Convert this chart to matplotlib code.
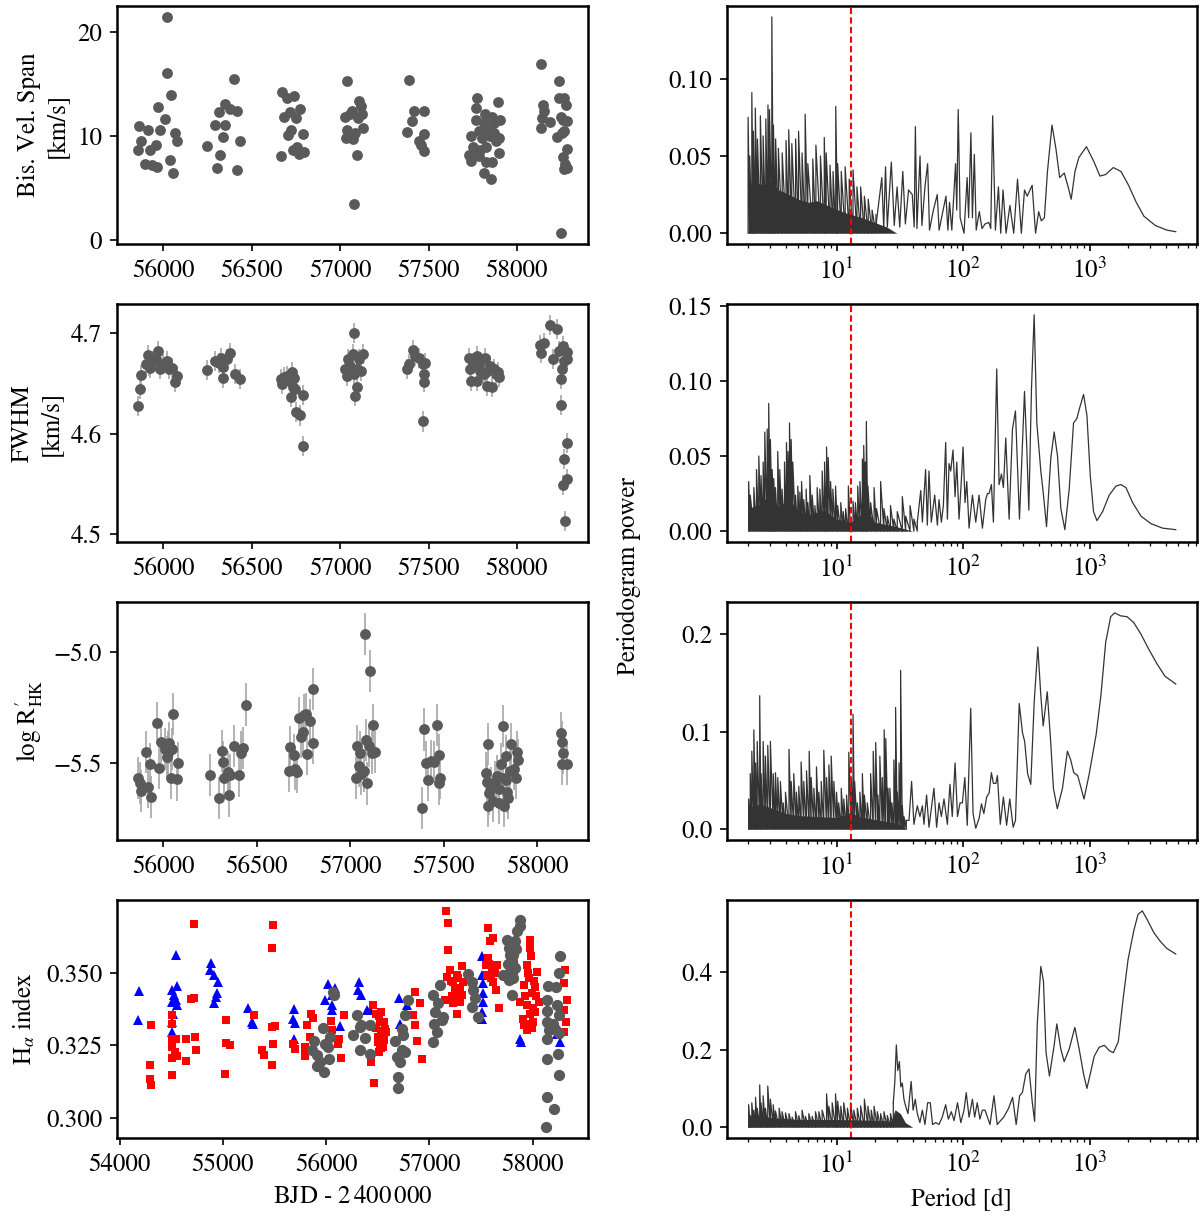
import matplotlib
matplotlib.use("Agg")
import matplotlib.pyplot as plt
from matplotlib.ticker import MultipleLocator, FormatStrFormatter
import numpy as np

plt.rcParams['font.family'] = ['STIXGeneral', 'DejaVu Serif']
plt.rcParams['mathtext.fontset'] = 'stix'
plt.rcParams['font.size'] = 12
plt.rcParams['axes.linewidth'] = 1.2


# ---- time series ----
bis_t = [55859, 55865, 55874, 55898, 55913, 55924, 55935, 55957, 55963, 55972,
         55985, 56011, 56020, 56024, 56039, 56043, 56054, 56067, 56076,
         56246, 56307, 56320, 56293, 56315, 56348, 56352, 56341, 56380, 56402,
         56415, 56420, 56435,
         56667, 56672, 56685, 56702, 56707, 56717, 56724, 56733, 56741, 56750,
         56754, 56767, 56776, 56793, 56798,
         57037, 57026, 57037, 57033, 57054, 57065, 57072, 57080, 57094, 57087,
         57104, 57109, 57120, 57124, 57130,
         57391, 57380, 57407, 57420, 57446, 57457, 57472, 57476, 57474,
         57728, 57739, 57750, 57739, 57767, 57772, 57767, 57783, 57793, 57815,
         57826, 57820, 57837, 57848, 57854, 57859, 57870, 57880, 57891, 57896,
         57898, 57902, 57804, 57826, 57859, 57815, 57783, 57754, 57870,
         58137, 58137, 58141, 58146, 58152, 58185, 58239, 58250, 58239, 58250,
         58261, 58267, 58276, 58283, 58228, 58254, 58267, 58283, 58261, 58272,
         58267, 58280]
bis = [8.65, 11.0, 9.5, 7.3, 10.6, 8.7, 7.2, 9.2, 7.0, 12.8,
       10.6, 11.7, 21.5, 16.1, 7.7, 14.0, 6.5, 10.3, 9.5,
       9.1, 6.9, 8.2, 11.1, 12.3, 11.1, 13.1, 9.9, 12.6, 15.5,
       6.7, 12.4, 9.5,
       8.1, 14.3, 11.9, 13.7, 10.1, 12.3, 10.6, 8.7, 13.9, 11.8,
       9.0, 8.3, 12.6, 10.2, 8.5,
       15.3, 11.9, 10.6, 9.8, 12.1, 12.4, 9.7, 3.5, 8.2, 10.3,
       11.8, 13.4, 12.9, 12.1, 10.8,
       15.4, 10.4, 11.5, 12.4, 9.5, 9.2, 12.4, 10.2, 8.6,
       8.2, 7.6, 9.0, 10.0, 12.7, 13.7, 11.6, 10.5, 8.7, 6.5,
       7.5, 12.1, 10.6, 10.0, 5.9, 7.5, 11.3, 9.5, 13.3, 9.8,
       8.4, 11.6, 9.8, 9.0, 11.9, 11.3, 8.1, 8.4, 10.3,
       17.0, 10.8, 11.8, 13.0, 12.4, 11.4, 15.3, 0.65, 13.7, 11.9,
       11.6, 13.7, 13.0, 11.5, 9.9, 10.3, 10.5, 8.8, 8.0, 7.3,
       6.8, 6.9]

fwhm_t = [55859, 55870, 55876, 55902, 55913, 55924, 55941, 55957, 55972, 55985,
          56000, 56022, 56033, 56050, 56065, 56076, 55920,
          56246, 56293, 56315, 56337, 56359, 56380, 56341, 56407, 56435, 56326,
          56667, 56674, 56685, 56702, 56717, 56728, 56735, 56724, 56746, 56750,
          56776, 56793, 56789, 56741,
          57026, 57037, 57043, 57059, 57072, 57080, 57094, 57087, 57098, 57109,
          57120, 57130, 57076,
          57380, 57391, 57413, 57424, 57446, 57467, 57478, 57472, 57472, 57467,
          57728, 57733, 57739, 57754, 57772, 57783, 57793, 57811, 57820, 57833,
          57848, 57859, 57870, 57880, 57891, 57898, 57772, 57826,
          58130, 58137, 58152, 58202, 58185, 58224, 58239, 58250, 58254, 58261,
          58267, 58250, 58280, 58283, 58267, 58261, 58280, 58272, 58283]
fwhm = [4.627, 4.644, 4.658, 4.669, 4.678, 4.665, 4.672, 4.674, 4.682, 4.664,
        4.669, 4.672, 4.664, 4.665, 4.651, 4.657, 4.667,
        4.663, 4.672, 4.670, 4.666, 4.674, 4.680, 4.655, 4.659, 4.654, 4.675,
        4.654, 4.649, 4.656, 4.657, 4.652, 4.661, 4.646, 4.636, 4.644, 4.621,
        4.618, 4.638, 4.588, 4.655,
        4.664, 4.657, 4.674, 4.667, 4.679, 4.700, 4.646, 4.637, 4.664, 4.674,
        4.662, 4.679, 4.659,
        4.664, 4.669, 4.683, 4.677, 4.675, 4.669, 4.670, 4.659, 4.651, 4.612,
        4.675, 4.664, 4.652, 4.670, 4.677, 4.669, 4.662, 4.659, 4.675, 4.647,
        4.667, 4.646, 4.664, 4.659, 4.661, 4.656, 4.652, 4.661,
        4.688, 4.680, 4.690, 4.674, 4.708, 4.704, 4.682, 4.654, 4.664, 4.687,
        4.672, 4.628, 4.681, 4.591, 4.575, 4.549, 4.555, 4.513, 4.674]
fwhm_err = 0.010

rhk_t = [55867, 55877, 55883, 55908, 55918, 55928, 55938, 55965, 55979, 55990,
         56010, 56021, 56031, 56041, 56047, 56055, 56072, 56082, 56027,
         56252, 56297, 56314, 56318, 56328, 56345, 56353, 56359, 56379, 56406,
         56416, 56425, 56441,
         56671, 56677, 56698, 56708, 56718, 56728, 56739, 56749, 56753, 56765,
         56769, 56786, 56800, 56800,
         57032, 57036, 57046, 57052, 57060, 57073, 57081, 57087, 57093, 57101,
         57107, 57118, 57122, 57134,
         57384, 57394, 57404, 57414, 57435, 57451, 57466, 57476, 57476, 57482,
         57729, 57733, 57737, 57737, 57743, 57754, 57764, 57774, 57784, 57794,
         57805, 57815, 57819, 57825, 57832, 57840, 57846, 57856, 57862, 57877,
         57887, 57893, 57897, 57794, 57836,
         58127, 58133, 58139, 58133, 58160]
rhk = [-5.565, -5.588, -5.626, -5.448, -5.606, -5.505, -5.652, -5.318, -5.520, -5.406,
       -5.436, -5.474, -5.409, -5.565, -5.436, -5.277, -5.573, -5.500, -5.452,
       -5.553, -5.656, -5.444, -5.494, -5.565, -5.539, -5.645, -5.555, -5.421, -5.555,
       -5.452, -5.433, -5.236,
       -5.535, -5.429, -5.464, -5.527, -5.539, -5.297, -5.383, -5.358, -5.285, -5.277,
       -5.459, -5.308, -5.167, -5.409,
       -5.565, -5.421, -5.512, -5.452, -5.550, -5.535, -4.918, -5.394, -5.591, -5.421,
       -5.085, -5.452, -5.327, -5.448,
       -5.702, -5.348, -5.497, -5.576, -5.489, -5.494, -5.327, -5.464, -5.591, -5.565,
       -5.545, -5.585, -5.414, -5.691, -5.636, -5.611, -5.671, -5.585, -5.558, -5.615,
       -5.505, -5.565, -5.333, -5.691, -5.467, -5.630, -5.656, -5.535, -5.414, -5.527,
       -5.565, -5.448, -5.485, -5.679, -5.574,
       -5.364, -5.403, -5.452, -5.505, -5.505]
rhk_err = 0.095

ha_blue_t = [54186, 54179, 54544, 54511, 54554, 54528, 54544, 54505, 54554, 54514,
             54505, 54511, 54886, 54879, 54912, 54951, 54944, 54935, 54918,
             55244, 55277, 55293, 55684, 55674, 55700, 55684,
             56019, 55993, 56058, 56058, 56084, 56055, 56130, 56319, 56312, 56335,
             56392, 56424, 56709, 56715, 56780,
             57508, 57508, 57518, 57524, 57524, 57508, 57508,
             57880, 57887, 58269, 58237]
ha_blue = [0.3438, 0.3336, 0.3561, 0.3440, 0.3455, 0.3423, 0.3406, 0.3400, 0.3388, 0.3359,
           0.3331, 0.3296, 0.3532, 0.3509, 0.3492, 0.3467, 0.3429, 0.3417, 0.3394,
           0.3377, 0.3331, 0.3325, 0.3374, 0.3342, 0.3327, 0.3273,
           0.3460, 0.3406, 0.3423, 0.3371, 0.3446, 0.3388, 0.3316, 0.3467, 0.3440, 0.3423,
           0.3371, 0.3371, 0.3414, 0.3325, 0.3388,
           0.3555, 0.3492, 0.3463, 0.3429, 0.3400, 0.3365, 0.3340,
           0.3273, 0.3262, 0.3262, 0.3290]

ha_red_t = [54723, 55488, 55472, 54306, 54293, 54293, 54306, 54502, 54502, 54511,
            54544, 54502, 54535, 54502, 54554, 54502, 54642, 54645, 54690, 54723,
            54729, 54739, 55032, 55032, 55065, 55016, 55303, 55381, 55394, 55472,
            55505, 55488, 55479, 55674, 55700, 55791, 55797, 55791, 55814, 55856,
            55869, 55846, 56048, 56055, 56120, 56114, 56140, 56169,
            56454, 56486, 56535, 56519, 56567, 56535, 56503, 56551, 56512, 56437,
            56460, 56577, 56500, 56520, 56540, 56560, 56480, 56530, 56560, 56510,
            56858, 56906, 56842, 56858, 56881, 56932,
            57162, 57178, 57184, 57201, 57168, 57233, 57265, 57314, 57298, 57265,
            57233, 57265, 57330, 57314, 57152, 57210, 57250, 57280, 57220, 57300,
            57573, 57589, 57621, 57573, 57550, 57605, 57653, 57621, 57647, 57670,
            57560, 57600, 57640, 57580,
            57977, 57977, 57984, 57945, 58042, 57961, 58026, 57913, 57880, 57945,
            57977, 57906, 57961, 58026, 58009, 57945, 58058, 57930, 57990, 58000,
            57960, 58010, 57920, 57990, 58030,
            58317, 58301, 58334, 58301, 58324, 58301]
ha_red = [0.3667, 0.3662, 0.3584, 0.3321, 0.3183, 0.3135, 0.3115, 0.3356, 0.3325, 0.3273,
          0.3271, 0.3244, 0.3229, 0.3206, 0.3215, 0.3149, 0.3273, 0.3198, 0.3409, 0.3414,
          0.3279, 0.3233, 0.3336, 0.3259, 0.3252, 0.3152, 0.3356, 0.3233, 0.3218, 0.3313,
          0.3317, 0.3256, 0.3184, 0.3256, 0.3238, 0.3244, 0.3227, 0.3215, 0.3319, 0.3359,
          0.3344, 0.3279, 0.3333, 0.3302, 0.3273, 0.3256, 0.3207, 0.3354,
          0.3388, 0.3359, 0.3365, 0.3331, 0.3308, 0.3285, 0.3262, 0.3244, 0.3227, 0.3192,
          0.3123, 0.3296, 0.3280, 0.3250, 0.3300, 0.3270, 0.3310, 0.3240, 0.3330, 0.3350,
          0.3434, 0.3394, 0.3354, 0.3319, 0.3267, 0.3204,
          0.3711, 0.3671, 0.3578, 0.3509, 0.3486, 0.3469, 0.3492, 0.3521, 0.3446, 0.3423,
          0.3397, 0.3359, 0.3469, 0.3423, 0.3406, 0.3470, 0.3440, 0.3480, 0.3420, 0.3400,
          0.3651, 0.3607, 0.3619, 0.3550, 0.3526, 0.3509, 0.3526, 0.3469, 0.3440, 0.3379,
          0.3490, 0.3480, 0.3500, 0.3530,
          0.3613, 0.3584, 0.3555, 0.3526, 0.3503, 0.3480, 0.3452, 0.3457, 0.3400, 0.3388,
          0.3359, 0.3342, 0.3325, 0.3365, 0.3331, 0.3302, 0.3400, 0.3420, 0.3430, 0.3380,
          0.3500, 0.3470, 0.3320, 0.3310, 0.3420,
          0.3509, 0.3463, 0.3405, 0.3371, 0.3331, 0.3296]

ha_gray_t = [56065, 56074, 55879, 55967, 55863, 55912, 55945, 55912, 55977, 56026,
             56019, 56042, 55993, 56303, 56260, 56325, 56335, 56327, 56375, 56424,
             56424, 56667, 56683, 56715, 56699, 56699, 56748, 56732, 56764, 56790,
             56732, 56764,
             57032, 57071, 57045, 57055, 57087, 57103, 57039, 57120, 57136,
             57379, 57411, 57427, 57443, 57411, 57476,
             57751, 57767, 57783, 57799, 57783, 57815, 57831, 57847, 57874, 57880,
             57831, 57718, 57799, 57767, 57760, 57790, 57810, 57840, 57820, 57800,
             58269, 58253, 58230, 58149, 58139, 58139, 58237, 58253, 58139, 58156,
             58139, 58253, 58221, 58243, 58139, 58253, 58139, 58211, 58133, 58198]
ha_gray = [0.3432, 0.3423, 0.3267, 0.3311, 0.3233, 0.3218, 0.3195, 0.3179, 0.3160, 0.3204,
           0.3244, 0.3279, 0.3256, 0.3354, 0.3285, 0.3233, 0.3319, 0.3313, 0.3275, 0.3221,
           0.3319, 0.3267, 0.3210, 0.3192, 0.3141, 0.3104, 0.3285, 0.3308, 0.3354, 0.3406,
           0.3233, 0.3227,
           0.3262, 0.3296, 0.3325, 0.3365, 0.3394, 0.3457, 0.3423, 0.3336, 0.3348,
           0.3494, 0.3467, 0.3440, 0.3411, 0.3382, 0.3348,
           0.3613, 0.3584, 0.3561, 0.3538, 0.3503, 0.3480, 0.3607, 0.3642, 0.3659, 0.3680,
           0.3515, 0.3492, 0.3423, 0.3475, 0.3530, 0.3590, 0.3560, 0.3580, 0.3520, 0.3500,
           0.3555, 0.3498, 0.3452, 0.3455, 0.3405, 0.3368, 0.3388, 0.3354, 0.3331, 0.3302,
           0.3271, 0.3294, 0.3308, 0.3221, 0.3204, 0.3150, 0.3073, 0.3031, 0.2970, 0.3325]


# ---- periodograms (peaks) ----
p_rot = 12.9

bis_spike_p = [2.00, 2.06, 2.14, 2.20, 2.28, 2.37, 2.50, 2.63, 2.76, 2.87, 2.95, 3.08,
               3.17, 3.30, 3.47, 3.72, 3.99, 4.19, 4.43, 4.75, 5.01, 5.34, 5.65, 5.93,
               6.49, 6.87, 7.46, 8.00, 8.28, 8.88, 9.39, 9.86, 10.2, 10.9, 11.7, 12.6,
               13.5, 14.5, 15.5, 16.6, 17.8, 19.1, 20.5]
bis_spike_pow = [0.075, 0.050, 0.091, 0.066, 0.081, 0.061, 0.076, 0.063, 0.074, 0.083,
                 0.080, 0.140, 0.070, 0.061, 0.055, 0.052, 0.060, 0.067, 0.058, 0.061,
                 0.066, 0.052, 0.077, 0.045, 0.048, 0.057, 0.050, 0.062, 0.052, 0.044,
                 0.040, 0.082, 0.045, 0.040, 0.043, 0.035, 0.041, 0.030, 0.030, 0.024,
                 0.022, 0.015, 0.012]
bis_band_p = [2.0, 2.3, 2.7, 3.0, 3.5, 4.0, 5.0, 6.0, 7.0, 9.0, 12.0, 16.0, 20.0, 25.0, 30.0]
bis_band_pow = [0.030, 0.033, 0.031, 0.034, 0.028, 0.026, 0.022, 0.020, 0.021, 0.017,
                0.013, 0.010, 0.007, 0.004, 0.0]
bis_curve_p = [20.5, 22.8, 23.6, 24.4, 25.2, 27.1, 28.6, 30.1, 31.6, 33.4, 35.0, 37.1,
               39.7, 41.1, 42.0, 43.2, 45.7, 47.3, 50.0, 52.5, 54.3, 58.3, 62.5, 64.7,
               68.4, 73.3, 75.9, 78.2, 81.5, 87.3, 89.2, 91.6, 94.9, 101.8, 107.7,
               110.7, 115.4, 118.6, 122.8, 127.1, 134.5, 141.2, 149.3, 160.0, 165.6,
               171.5, 180.2, 190.5, 198.6, 207.1, 218.9, 234.7, 251.5, 269.6, 289.0,
               306.0, 321.2, 351.7, 374.3, 396.0, 415.6, 439.5, 464.8, 505.0, 541.6,
               580.4, 631.0, 677.0, 715.9, 767.6, 822.7, 945.2, 1087, 1207, 1340,
               1541, 1771, 2036, 2340, 2690, 3314, 4083, 4800]
bis_curve_pow = [0.005, 0.036, 0.003, 0.043, 0.004, 0.046, 0.005, 0.030, 0.004, 0.040,
                 0.006, 0.028, 0.025, 0.004, 0.069, 0.003, 0.050, 0.005, 0.030, 0.045,
                 0.002, 0.015, 0.025, 0.002, 0.012, 0.024, 0.002, 0.020, 0.002, 0.045,
                 0.015, 0.080, 0.010, 0.000, 0.036, 0.010, 0.065, 0.010, 0.051, 0.002,
                 0.014, 0.003, 0.006, 0.007, 0.003, 0.076, 0.002, 0.030, 0.000, 0.028,
                 0.000, 0.018, 0.000, 0.035, 0.000, 0.028, 0.024, 0.031, 0.000, 0.014,
                 0.008, 0.010, 0.040, 0.070, 0.055, 0.036, 0.039, 0.030, 0.022, 0.040,
                 0.049, 0.056, 0.046, 0.037, 0.038, 0.0425, 0.040, 0.031, 0.020, 0.011,
                 0.005, 0.002, 0.001]

fwhm_spike_p = [2.02, 2.08, 2.22, 2.33, 2.43, 2.53, 2.63, 2.71, 2.83, 2.91, 3.00, 3.10,
                3.19, 3.29, 3.43, 3.56, 3.71, 3.88, 4.02, 4.14, 4.25, 4.38, 4.51, 4.74,
                4.94, 5.13, 5.29, 5.51, 5.75, 5.93, 6.15, 6.42, 6.74, 7.03, 7.38, 7.70,
                8.04, 8.34, 8.59, 8.97, 9.35, 9.82, 10.2, 10.8, 11.3, 11.8, 12.4, 12.9,
                13.5, 14.1, 14.7, 15.3, 16.0, 16.4, 16.9, 17.2, 17.7, 18.6, 19.8, 20.7,
                22.3, 23.7, 25.2, 26.7, 28.4, 30.2, 33.1, 35.2, 38.1, 40.9, 43.5]
fwhm_spike_pow = [0.033, 0.024, 0.029, 0.041, 0.050, 0.037, 0.046, 0.066, 0.068, 0.085,
                  0.061, 0.041, 0.035, 0.029, 0.053, 0.041, 0.028, 0.046, 0.059, 0.053,
                  0.072, 0.061, 0.046, 0.024, 0.030, 0.026, 0.033, 0.021, 0.028, 0.019,
                  0.037, 0.024, 0.017, 0.029, 0.028, 0.040, 0.046, 0.056, 0.049, 0.033,
                  0.028, 0.030, 0.017, 0.019, 0.013, 0.015, 0.030, 0.008, 0.020, 0.019,
                  0.030, 0.033, 0.048, 0.057, 0.046, 0.073, 0.030, 0.019, 0.029, 0.015,
                  0.033, 0.015, 0.010, 0.017, 0.008, 0.013, 0.023, 0.010, 0.017, 0.008,
                  0.006]
fwhm_band_p = [2.0, 2.5, 2.9, 3.5, 4.2, 5.0, 6.0, 8.0, 10.0, 13.0, 16.0, 17.5, 20.0,
               30.0, 40.0]
fwhm_band_pow = [0.015, 0.018, 0.024, 0.016, 0.022, 0.013, 0.011, 0.014, 0.008, 0.006,
                 0.012, 0.014, 0.006, 0.003, 0.0]
fwhm_curve_p = [43.5, 46.3, 47.7, 50.6, 52.2, 53.8, 56.1, 59.7, 62.7, 64.6, 67.4, 69.9,
                72.9, 75.2, 77.5, 79.9, 83.3, 86.5, 89.2, 93.0, 97.0, 100.0, 103.7,
                107.0, 111.6, 118.6, 126.0, 133.9, 142.3, 151.1, 155.9, 160.7, 167.6,
                173.8, 184.6, 192.7, 201.1, 208.5, 217.6, 231.3, 245.9, 259.6, 279.2,
                295.1, 306.1, 319.2, 331.1, 347.6, 364.9, 383.1, 411.9, 432.4, 457.0,
                494.4, 525.3, 558.2, 593.1, 638.0, 690.4, 747.2, 794.3, 828.5, 896.6,
                953.4, 1013, 1075, 1144, 1268, 1431, 1616, 1770, 1940, 2190, 2549,
                3058, 3782, 4800]
fwhm_curve_pow = [0.006, 0.027, 0.006, 0.041, 0.004, 0.040, 0.006, 0.024, 0.004, 0.021,
                  0.006, 0.017, 0.059, 0.008, 0.045, 0.040, 0.054, 0.023, 0.046, 0.008,
                  0.034, 0.056, 0.019, 0.033, 0.002, 0.024, 0.006, 0.024, 0.002, 0.021,
                  0.025, 0.025, 0.031, 0.006, 0.108, 0.031, 0.038, 0.029, 0.062, 0.008,
                  0.068, 0.080, 0.008, 0.059, 0.093, 0.055, 0.014, 0.095, 0.144, 0.072,
                  0.040, 0.024, 0.003, 0.049, 0.066, 0.050, 0.015, 0.001, 0.028, 0.072,
                  0.075, 0.081, 0.091, 0.077, 0.037, 0.013, 0.007, 0.013, 0.024, 0.030,
                  0.031, 0.029, 0.019, 0.010, 0.005, 0.002, 0.001]

rhk_spike_p = [2.02, 2.08, 2.14, 2.22, 2.29, 2.36, 2.47, 2.53, 2.63, 2.74, 2.86, 3.00,
               3.16, 3.29, 3.43, 3.60, 3.79, 3.95, 4.21, 4.38, 4.59, 4.82, 5.03, 5.25,
               5.51, 5.79, 6.08, 6.30, 6.62, 6.94, 7.25, 7.57, 7.93, 8.34, 8.70, 9.08,
               9.52, 10.0, 10.4, 10.9, 11.4, 12.0, 12.5, 13.1, 13.5, 13.9, 14.6, 15.3,
               16.0, 16.6, 17.5, 18.6, 19.5, 20.4, 21.2, 22.0, 23.0, 23.8, 24.5, 25.5,
               26.4, 27.4, 28.4, 29.3, 30.2, 31.2, 32.1, 33.1, 34.1, 35.6]
rhk_spike_pow = [0.031, 0.057, 0.080, 0.102, 0.068, 0.090, 0.137, 0.057, 0.090, 0.075,
                 0.086, 0.090, 0.057, 0.058, 0.053, 0.049, 0.027, 0.038, 0.082, 0.049,
                 0.057, 0.038, 0.044, 0.069, 0.049, 0.060, 0.080, 0.053, 0.042, 0.064,
                 0.038, 0.049, 0.081, 0.053, 0.066, 0.075, 0.049, 0.038, 0.027, 0.042,
                 0.031, 0.035, 0.079, 0.053, 0.118, 0.049, 0.027, 0.038, 0.057, 0.035,
                 0.027, 0.057, 0.080, 0.089, 0.035, 0.075, 0.053, 0.102, 0.093, 0.042,
                 0.042, 0.027, 0.071, 0.125, 0.038, 0.068, 0.163, 0.024, 0.013, 0.009]
rhk_band_p = [2.0, 2.5, 3.0, 4.0, 5.0, 7.0, 10.0, 13.0, 15.0, 20.0, 30.0, 36.0]
rhk_band_pow = [0.022, 0.026, 0.022, 0.016, 0.014, 0.013, 0.012, 0.017, 0.013, 0.010,
                0.006, 0.0]
rhk_curve_p = [35.6, 37.4, 39.2, 40.9, 43.5, 45.6, 47.7, 49.1, 51.5, 53.8, 56.5, 58.9,
               61.8, 64.6, 67.4, 70.7, 75.2, 78.8, 82.2, 86.5, 90.4, 94.7, 98.8, 103.3,
               108.0, 115.0, 120.0, 126.0, 133.9, 139.9, 146.0, 153.7, 160.7, 167.6,
               173.8, 181.8, 187.0, 197.0, 208.5, 221.0, 234.0, 249.0, 259.7, 278.0,
               295.0, 307.0, 324.0, 343.0, 365.0, 390.0, 412.0, 430.0, 445.0, 463.0,
               491.0, 518.0, 556.0, 611.0, 668.0, 710.0, 750.0, 806.0, 904.0, 995.0,
               1127, 1229, 1342, 1469, 1577, 1753, 1981, 2236, 2526, 2930, 3400, 3947,
               4800]
rhk_curve_pow = [0.009, 0.009, 0.049, 0.005, 0.024, 0.013, 0.024, 0.005, 0.035, 0.002,
                 0.024, 0.042, 0.002, 0.027, 0.013, 0.031, 0.005, 0.046, 0.013, 0.068,
                 0.013, 0.027, 0.027, 0.053, 0.004, 0.124, 0.016, 0.001, 0.011, 0.026,
                 0.016, 0.033, 0.037, 0.058, 0.047, 0.047, 0.055, 0.005, 0.033, 0.004,
                 0.031, 0.002, 0.009, 0.129, 0.099, 0.090, 0.057, 0.046, 0.130, 0.187,
                 0.137, 0.106, 0.122, 0.141, 0.093, 0.042, 0.021, 0.042, 0.080, 0.071,
                 0.058, 0.055, 0.031, 0.057, 0.097, 0.137, 0.192, 0.218, 0.222, 0.219,
                 0.218, 0.212, 0.201, 0.185, 0.170, 0.157, 0.149]

ha_spike_p = [2.02, 2.08, 2.14, 2.22, 2.29, 2.36, 2.47, 2.53, 2.63, 2.74, 2.86, 3.00,
              3.16, 3.29, 3.52, 3.71, 3.95, 4.21, 4.46, 4.74, 5.03, 5.34, 5.67, 6.04,
              6.42, 6.82, 7.25, 7.70, 8.34, 8.70, 9.24, 9.82, 10.2, 10.8, 11.4, 12.2,
              12.9, 13.7, 14.6, 15.5, 16.6, 17.7, 18.8, 19.8, 21.0, 22.3, 23.7, 25.2,
              26.7, 28.1]
ha_spike_pow = [0.058, 0.030, 0.063, 0.044, 0.077, 0.049, 0.109, 0.063, 0.081, 0.049,
                0.106, 0.072, 0.058, 0.042, 0.049, 0.040, 0.037, 0.035, 0.026, 0.040,
                0.030, 0.044, 0.028, 0.035, 0.028, 0.040, 0.040, 0.044, 0.086, 0.054,
                0.063, 0.086, 0.067, 0.054, 0.063, 0.049, 0.063, 0.044, 0.049, 0.055,
                0.072, 0.054, 0.044, 0.054, 0.040, 0.035, 0.040, 0.030, 0.035, 0.063]
ha_band_p = [2.0, 2.5, 3.0, 5.0, 10.0, 20.0, 27.0, 29.0, 32.0, 35.0, 40.0]
ha_band_pow = [0.028, 0.032, 0.025, 0.020, 0.020, 0.018, 0.016, 0.045, 0.035, 0.012, 0.0]
ha_curve_p = [28.1, 28.9, 29.7, 30.5, 31.4, 32.2, 33.1, 34.1, 35.2, 36.7, 38.9, 40.3,
              41.9, 43.5, 45.6, 47.7, 50.0, 52.5, 55.1, 57.4, 60.9, 64.6, 68.5, 72.9,
              76.5, 80.8, 84.9, 90.4, 96.0, 101.8, 106.0, 111.6, 118.6, 123.5, 129.5,
              135.9, 142.3, 149.2, 155.9, 163.4, 175.6, 186.3, 197.8, 209.8, 229.4,
              246.4, 263.0, 280.0, 295.0, 313.0, 332.0, 353.0, 368.0, 386.0, 412.0,
              432.0, 453.0, 482.0, 525.0, 551.0, 593.0, 630.0, 690.0, 765.0, 828.0,
              897.0, 953.0, 1013, 1089, 1192, 1308, 1436, 1543, 1687, 1843, 2016, 2236,
              2415, 2614, 2860, 3222, 3634, 4097, 4800]
ha_curve_pow = [0.063, 0.118, 0.212, 0.146, 0.169, 0.104, 0.114, 0.072, 0.054, 0.035,
                0.118, 0.044, 0.072, 0.035, 0.012, 0.044, 0.007, 0.063, 0.063, 0.007,
                0.012, 0.007, 0.026, 0.058, 0.021, 0.040, 0.017, 0.063, 0.012, 0.044,
                0.089, 0.026, 0.072, 0.026, 0.063, 0.021, 0.044, 0.044, 0.026, 0.007,
                0.081, 0.007, 0.017, 0.026, 0.049, 0.077, 0.007, 0.081, 0.090, 0.137,
                0.150, 0.063, 0.015, 0.266, 0.414, 0.377, 0.192, 0.132, 0.211, 0.266,
                0.201, 0.169, 0.201, 0.257, 0.201, 0.137, 0.100, 0.137, 0.183, 0.206,
                0.211, 0.197, 0.192, 0.220, 0.331, 0.432, 0.506, 0.548, 0.557, 0.534,
                0.501, 0.478, 0.460, 0.446]


# ---- layout ----
fig = plt.figure(figsize=(8, 1216 / 150), dpi=150)
row_bottom = [0.7993, 0.5543, 0.3092, 0.0641]
row_h = 0.1957
ax_left = [fig.add_axes([0.0973, b, 0.3931, row_h]) for b in row_bottom]
ax_right = [fig.add_axes([0.6056, b, 0.3920, row_h]) for b in row_bottom]

pt_color = '#5a5a5a'
pg_color = '#333333'

# left column: activity indicators vs time
ax = ax_left[0]
ax.plot(bis_t, bis, 'o', ms=5.2, color=pt_color, mew=0)
ax.set_ylabel('Bis. Vel. Span\n[km/s]', multialignment='center')
ax.yaxis.set_major_locator(MultipleLocator(10))

ax = ax_left[1]
ax.errorbar(fwhm_t, fwhm, yerr=fwhm_err, fmt='o', ms=5.2, color=pt_color, mew=0,
            ecolor='0.65', elinewidth=0.8, capsize=0)
ax.set_ylabel('FWHM\n[km/s]', multialignment='center')
ax.yaxis.set_major_locator(MultipleLocator(0.1))

ax = ax_left[2]
ax.errorbar(rhk_t, rhk, yerr=rhk_err, fmt='o', ms=5.2, color=pt_color, mew=0,
            ecolor='0.65', elinewidth=0.8, capsize=0)
ax.set_ylabel(r"$\log\,\mathrm{R}^{\prime}_{\mathrm{HK}}$")
ax.yaxis.set_major_locator(MultipleLocator(0.5))

for ax in ax_left[:3]:
    ax.xaxis.set_major_locator(MultipleLocator(500))

ax = ax_left[3]
ax.plot(ha_blue_t, ha_blue, '^', ms=5.0, color='blue', mew=0)
ax.plot(ha_red_t, ha_red, 's', ms=4.0, color='red', mew=0)
ax.plot(ha_gray_t, ha_gray, 'o', ms=5.4, color=pt_color, mew=0)
ax.set_ylabel(r'H$_\alpha$ index')
ax.set_xlabel('BJD - 2$\\,$400$\\,$000')
ax.xaxis.set_major_locator(MultipleLocator(1000))
ax.yaxis.set_major_locator(MultipleLocator(0.025))
ax.yaxis.set_major_formatter(FormatStrFormatter('%.3f'))

# right column: periodograms
pgrams = [
    (bis_spike_p, bis_spike_pow, bis_band_p, bis_band_pow, bis_curve_p, bis_curve_pow, 0.05, '%.2f'),
    (fwhm_spike_p, fwhm_spike_pow, fwhm_band_p, fwhm_band_pow, fwhm_curve_p, fwhm_curve_pow, 0.05, '%.2f'),
    (rhk_spike_p, rhk_spike_pow, rhk_band_p, rhk_band_pow, rhk_curve_p, rhk_curve_pow, 0.1, '%.1f'),
    (ha_spike_p, ha_spike_pow, ha_band_p, ha_band_pow, ha_curve_p, ha_curve_pow, 0.2, '%.1f'),
]
for ax, (sp, spw, bp, bpw, cp, cpw, step, fmt) in zip(ax_right, pgrams):
    # solid mass of the short-period forest
    ax.fill_between(bp, 0, bpw, color=pg_color, lw=0)
    # individual peaks: rise at each peak, fall back to zero at the next
    saw_p = np.repeat(sp, 2)
    saw_pow = np.column_stack([np.zeros(len(spw)), spw]).ravel()
    ax.plot(saw_p, saw_pow, color=pg_color, lw=0.6)
    ax.plot(cp, cpw, color=pg_color, lw=0.6)
    ax.axvline(p_rot, color='red', ls=(0, (3, 1.6)), lw=1.0)
    ax.set_xscale('log')
    ax.yaxis.set_major_locator(MultipleLocator(step))
    ax.yaxis.set_major_formatter(FormatStrFormatter(fmt))

ax_right[3].set_xlabel('Period [d]')

fig.text(0.524, 0.526, 'Periodogram power', rotation=90, ha='center', va='center')

fig.savefig('out.png', dpi=150)
